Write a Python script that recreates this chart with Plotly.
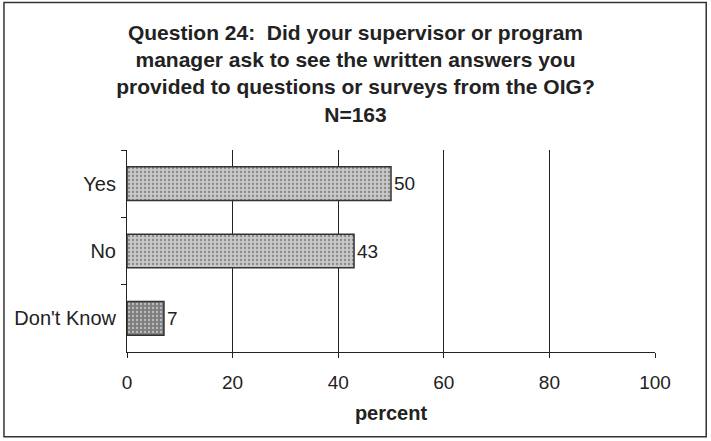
import plotly.graph_objects as go

categories = ["Yes", "No", "Don't Know"]
percent_values = [50, 43, 7]
bar_colors = ["#c8c8c8", "#c8c8c8", "#7e7e7e"]
x_ticks = [0, 20, 40, 60, 80, 100]

title_text = ("<b>Question 24:  Did your supervisor or program<br>"
              "manager ask to see the written answers you<br>"
              "provided to questions or surveys from the OIG?<br>"
              "N=163</b>")

fig = go.Figure()
fig.add_trace(go.Bar(
    y=categories,
    x=percent_values,
    orientation="h",
    width=0.5,
    marker=dict(
        color=bar_colors,
        line=dict(color="#333333", width=1.5),
        pattern=dict(shape=".", size=4, solidity=0.25, fgcolor="#8c8c8c"),
    ),
    text=[str(v) for v in percent_values],
    textposition="outside",
    textfont=dict(family="Liberation Sans, Arial", size=19, color="#222222"),
    cliponaxis=False,
    showlegend=False,
))

fig.update_layout(
    width=711, height=441,
    paper_bgcolor="white", plot_bgcolor="white",
    margin=dict(l=127, r=56, t=150, b=89),
    font=dict(family="Liberation Sans, Arial", size=19, color="#222222"),
    title=dict(text=title_text, x=0.5, xref="container", xanchor="center",
               y=0.91, yref="container", yanchor="top",
               font=dict(family="Liberation Sans, Arial", size=21, color="#222222")),
    bargap=0.5,
)

fig.update_xaxes(
    range=[0, 100], tickvals=x_ticks, ticktext=[str(t) for t in x_ticks],
    showgrid=True, gridcolor="#222222", gridwidth=1,
    showline=True, linecolor="#222222", linewidth=1,
    ticks="outside", ticklen=5, tickcolor="#222222",
    zeroline=False,
    ticklabelstandoff=8,
    title=dict(text="<b>percent</b>", font=dict(size=20), standoff=14),
    tickfont=dict(size=19),
)
fig.update_yaxes(
    autorange="reversed",
    categoryorder="array", categoryarray=categories,
    showline=True, linecolor="#222222", linewidth=1,
    ticks="outside", ticklen=5, tickcolor="#222222", tickson="boundaries",
    showgrid=False,
    ticklabelstandoff=6,
    tickfont=dict(size=20),
)

# outer frame of the figure
fig.add_shape(type="rect", xref="paper", yref="paper",
              x0=-0.233, x1=1.097, y0=-0.42, y1=1.73,
              line=dict(color="#333333", width=1.5), fillcolor="rgba(0,0,0,0)")

fig.write_html("out.html", post_script="document.body.style.margin='0px';",
               config={"displayModeBar": False})
